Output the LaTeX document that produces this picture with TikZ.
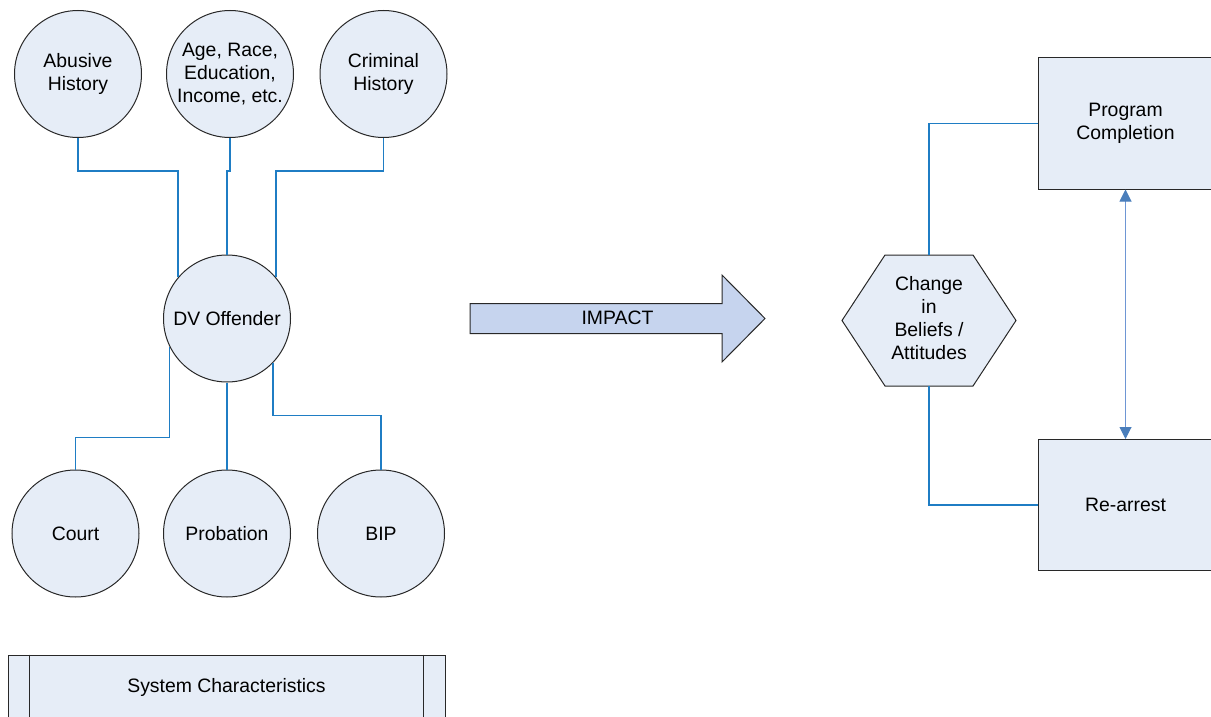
\documentclass[tikz,border=0pt]{standalone}
\usepackage{fontspec}
\setmainfont{Liberation Sans}
\usetikzlibrary{arrows.meta}
\definecolor{nodefill}{RGB}{230,237,247}
\definecolor{arrowfill}{RGB}{198,212,238}
\definecolor{conncol}{RGB}{31,125,196}
\definecolor{dblcol}{RGB}{110,150,212}
\definecolor{dblhead}{RGB}{74,126,187}
\definecolor{edgecol}{RGB}{40,40,40}
\tikzset{
  txt/.style={font=\fontsize{19.4}{23}\selectfont, align=center, text=black},
  circ/.style={txt, circle, draw=edgecol, line width=1pt, fill=nodefill, minimum size=127pt, inner sep=0pt},
  boxn/.style={txt, rectangle, draw=edgecol, line width=1pt, fill=nodefill, minimum width=175pt, minimum height=131pt, inner sep=0pt},
  conn/.style={draw=conncol, line width=1.9pt},
  dblarrow/.style={draw=dblcol, line width=1pt, {Triangle[length=12pt,width=12pt,color=dblhead]}-{Triangle[length=12pt,width=12pt,color=dblhead]}},
}
\begin{document}
\begin{tikzpicture}[x=1pt,y=-1pt]
\useasboundingbox (0,0) rectangle (1211,717);
\clip (0,0) rectangle (1211,717);
% top circles
\node[circ] (ab) at (78,74) {Abusive\\History};
\node[circ] (age) at (230,74) {Age, Race,\\Education,\\Income, etc.};
\node[circ] (cr) at (383.5,74) {Criminal\\History};
% centre
\node[circ] (dv) at (227,318.5) {DV Offender};
% bottom circles
\node[circ] (court) at (75.5,533.5) {Court};
\node[circ] (prob) at (227,533.5) {Probation};
\node[circ] (bip) at (381,533.5) {BIP};
% system characteristics
\node[txt, rectangle, draw=edgecol, line width=1pt, fill=nodefill, minimum width=437pt, minimum height=64pt, inner sep=0pt] (sys) at (226.5,687) {System Characteristics};
\draw[draw=edgecol, line width=1pt] ([xshift=22pt]sys.north west) -- ([xshift=22pt]sys.south west);
\draw[draw=edgecol, line width=1pt] ([xshift=-22pt]sys.north east) -- ([xshift=-22pt]sys.south east);
% connectors (left)
\draw[conn] (ab.south) -- ++(0,33) -| (dv.140.5);
\draw[conn] (age.south) -- ++(0,33) -| (dv.north);
\draw[conn] (cr.south) -- ++(0,33) -| (dv.40.9);
\draw[conn] (dv.206.2) |- ([yshift=32pt]court.north) -- (court.north);
\draw[conn] (dv.south) -- (prob.north);
\draw[conn] (dv.316.4) |- ([yshift=54pt]bip.north) -- (bip.north);
% IMPACT arrow
\draw[draw=edgecol, line width=1pt, fill=arrowfill] (470,303.5) -- (722,303.5) -- (722,275) -- (765,318.5) -- (722,362) -- (722,333.5) -- (470,333.5) -- cycle;
\node[txt] (impact) at (617.5,318) {IMPACT};
% hexagon
\draw[draw=edgecol, line width=1pt, fill=nodefill] (842,320.5) -- (885,255) -- (973,255) -- (1016,320.5) -- (973,386) -- (885,386) -- cycle;
\node[txt] (hex) at (929,318) {Change\\in\\Beliefs /\\Attitudes};
\coordinate (hextop) at (929,255);
\coordinate (hexbot) at (929,386);
% right boxes
\node[boxn] (prog) at (1125.5,123.5) {Program\\Completion};
\node[boxn] (rearr) at (1125.5,505) {Re-arrest};
\draw[conn, line width=1.6pt] (hextop) |- (prog.west);
\draw[conn, line width=1.6pt] (hexbot) |- (rearr.west);
\draw[dblarrow] (prog.south) -- (rearr.north);
\end{tikzpicture}
\end{document}
